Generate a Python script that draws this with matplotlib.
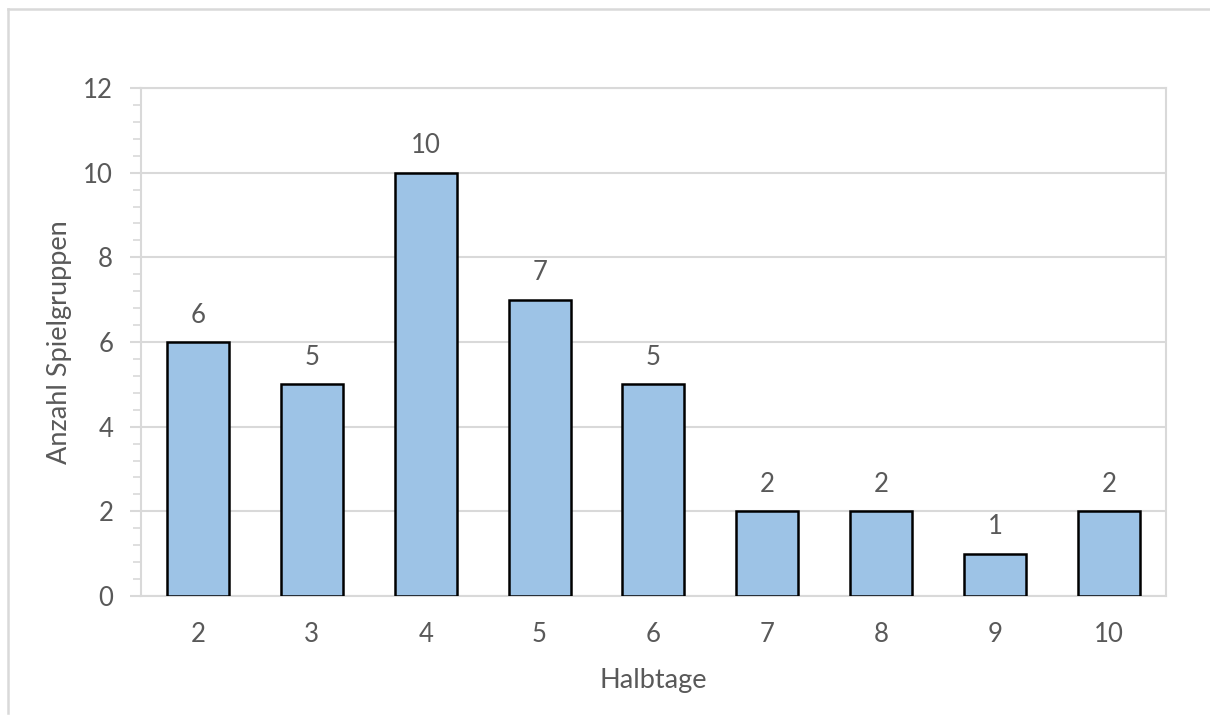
import matplotlib.pyplot as plt
from matplotlib.ticker import MultipleLocator
from matplotlib.lines import Line2D

# Halbtage pro Woche vs. Anzahl Spielgruppen
halbtage = ["2", "3", "4", "5", "6", "7", "8", "9", "10"]
anzahl = [6, 5, 10, 7, 5, 2, 2, 1, 2]

text_color = "#595959"
grid_color = "#D9D9D9"
bar_color = "#9DC3E6"

plt.rcParams['font.family'] = ['Lato', 'DejaVu Sans']

fig = plt.figure(figsize=(12.1, 7.15), dpi=100)
ax = fig.add_axes([0.1165, 0.1664, 0.8471, 0.7105])

x = range(len(halbtage))
bars = ax.bar(x, anzahl, width=0.545, color=bar_color, edgecolor="black",
              linewidth=1.8, zorder=3)

for xi, v in zip(x, anzahl):
    ax.annotate(str(v), (xi, v), xytext=(0, 14), textcoords="offset points",
                ha="center", va="baseline", fontsize=18.5, color=text_color)

ax.set_xlim(-0.5, len(halbtage) - 0.5)
ax.set_ylim(0, 12)
ax.set_xticks(list(x))
ax.set_xticklabels(halbtage)
ax.yaxis.set_major_locator(MultipleLocator(2))
ax.yaxis.set_minor_locator(MultipleLocator(0.4))

ax.grid(axis="y", color=grid_color, linewidth=1.5, zorder=0)
for s in ["left", "right", "bottom", "top"]:
    ax.spines[s].set_color(grid_color)
    ax.spines[s].set_linewidth(1.5)

ax.tick_params(axis="x", length=0, pad=19, labelsize=18.5, labelcolor=text_color)
ax.tick_params(axis="y", which="major", length=8, width=1.5, color=grid_color,
               pad=12, labelsize=18.5, labelcolor=text_color)
ax.tick_params(axis="y", which="minor", length=6, width=1.2, color=grid_color)

ax.set_ylabel("Anzahl Spielgruppen", fontsize=19.5, color=text_color)
ax.yaxis.set_label_coords(-0.0673, 0.5)
ax.set_xlabel("Halbtage", fontsize=19.5, color=text_color)
ax.xaxis.set_label_coords(0.5, -0.142)

# light frame around the chart (top and left edges only visible)
fig.add_artist(Line2D([8 / 1210, 1], [1 - 9 / 715, 1 - 9 / 715],
                      transform=fig.transFigure, color=grid_color, linewidth=1.8))
fig.add_artist(Line2D([8 / 1210, 8 / 1210], [1 - 9 / 715, 0.003],
                      transform=fig.transFigure, color=grid_color, linewidth=1.8))

fig.savefig("out.png", dpi=100)
